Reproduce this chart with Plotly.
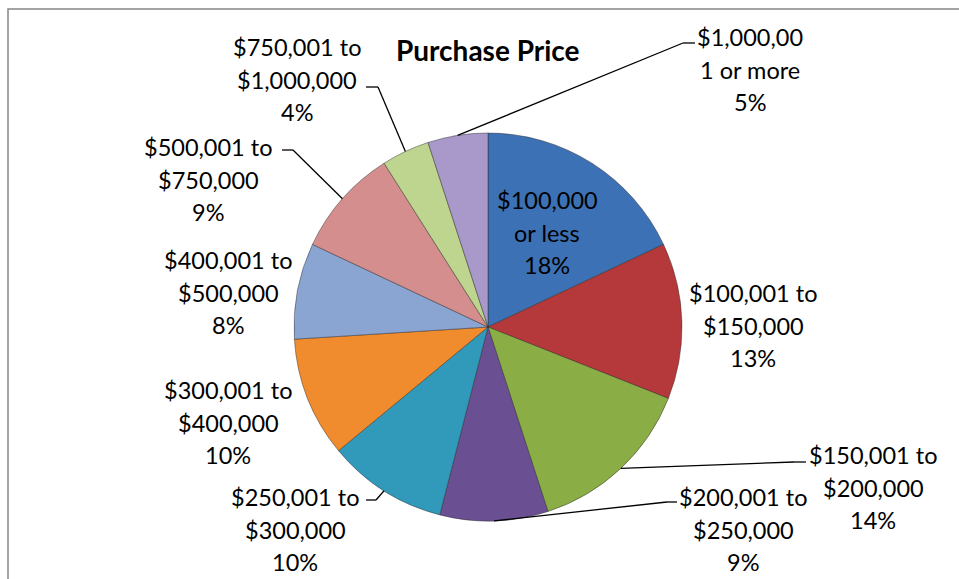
import math
import plotly.graph_objects as go

# ---- data ----
categories = [
    "$100,000 or less", "$100,001 to $150,000", "$150,001 to $200,000",
    "$200,001 to $250,000", "$250,001 to $300,000", "$300,001 to $400,000",
    "$400,001 to $500,000", "$500,001 to $750,000", "$750,001 to $1,000,000",
    "$1,000,001 or more",
]
values = [18, 13, 14, 9, 10, 10, 8, 9, 4, 5]
label_lines = [
    ["$100,000", "or less"],
    ["$100,001 to", "$150,000"],
    ["$150,001 to", "$200,000"],
    ["$200,001 to", "$250,000"],
    ["$250,001 to", "$300,000"],
    ["$300,001 to", "$400,000"],
    ["$400,001 to", "$500,000"],
    ["$500,001 to", "$750,000"],
    ["$750,001 to", "$1,000,000"],
    ["$1,000,00", "1 or more"],
]
colors = ["#3C71B5", "#B5393A", "#8AAE45", "#6B4F93", "#3199BA",
          "#F08C2E", "#8BA5D3", "#D38E8D", "#BDD58E", "#A999CB"]

# ---- layout (pixel placement) ----
W, H = 959, 579
CX, CY, R = 488, 327, 194
LINE_H = 32.5
# label block: (center x, first line y)
label_pos = [(547, 200), (753, 293), (873, 455), (743, 497), (295, 497),
             (228, 390), (228, 260), (208, 147), (297, 47), (750, 37)]
# leader: (stub start x, y, stub end x) or None
leaders = [None, None, (806, 462, 794), (677, 502, 667), (366, 500, 376),
           None, None, (282, 150, 293), (366, 87, 378), (695, 43, 683)]


def px(x):
    return x / W


def py(y):
    return 1 - y / H


fig = go.Figure(go.Pie(
    labels=categories, values=values, sort=False, direction="clockwise",
    rotation=0, textinfo="none", hoverinfo="label+percent",
    marker=dict(colors=colors, line=dict(color="rgba(40,40,40,0.45)", width=1)),
    domain=dict(x=[px(CX - R), px(CX + R)], y=[py(CY + R), py(CY - R)]),
    showlegend=False,
))

total = sum(values)
annotations = []
shapes = []
cum = 0
for i, v in enumerate(values):
    pct = round(100 * v / total)
    lines = label_lines[i] + [f"{pct}%"]
    lx, ly = label_pos[i]
    for k, t in enumerate(lines):
        annotations.append(dict(
            x=px(lx), y=py(ly + k * LINE_H), xref="paper", yref="paper",
            text=t, showarrow=False, xanchor="center", yanchor="middle",
            font=dict(family="Lato", size=23.5, color="#000000")))
    mid = (cum + v / 2) / total * 2 * math.pi
    cum += v
    if leaders[i] is not None:
        sx, sy, ex = leaders[i]
        edge_x = CX + R * math.sin(mid)
        edge_y = CY - R * math.cos(mid)
        shapes.append(dict(type="line", xref="paper", yref="paper",
                           x0=px(sx), y0=py(sy), x1=px(ex), y1=py(sy),
                           line=dict(color="black", width=1.3)))
        shapes.append(dict(type="line", xref="paper", yref="paper",
                           x0=px(ex), y0=py(sy), x1=px(edge_x), y1=py(edge_y),
                           line=dict(color="black", width=1.3)))

# chart frame
shapes.append(dict(type="rect", xref="paper", yref="paper",
                   x0=px(8), y0=py(9), x1=px(975), y1=py(600),
                   line=dict(color="#868686", width=1.5), layer="below"))

annotations.append(dict(
    x=px(488), y=py(50), xref="paper", yref="paper", text="<b>Purchase Price</b>",
    showarrow=False, xanchor="center", yanchor="middle",
    font=dict(family="Lato", size=28, color="#000000")))

fig.update_layout(
    width=W, height=H, margin=dict(l=0, r=0, t=0, b=0),
    paper_bgcolor="white", plot_bgcolor="white",
    annotations=annotations, shapes=shapes,
)

fig.write_html("out.html", config={"displayModeBar": False},
               post_script="document.body.style.margin='0';")
